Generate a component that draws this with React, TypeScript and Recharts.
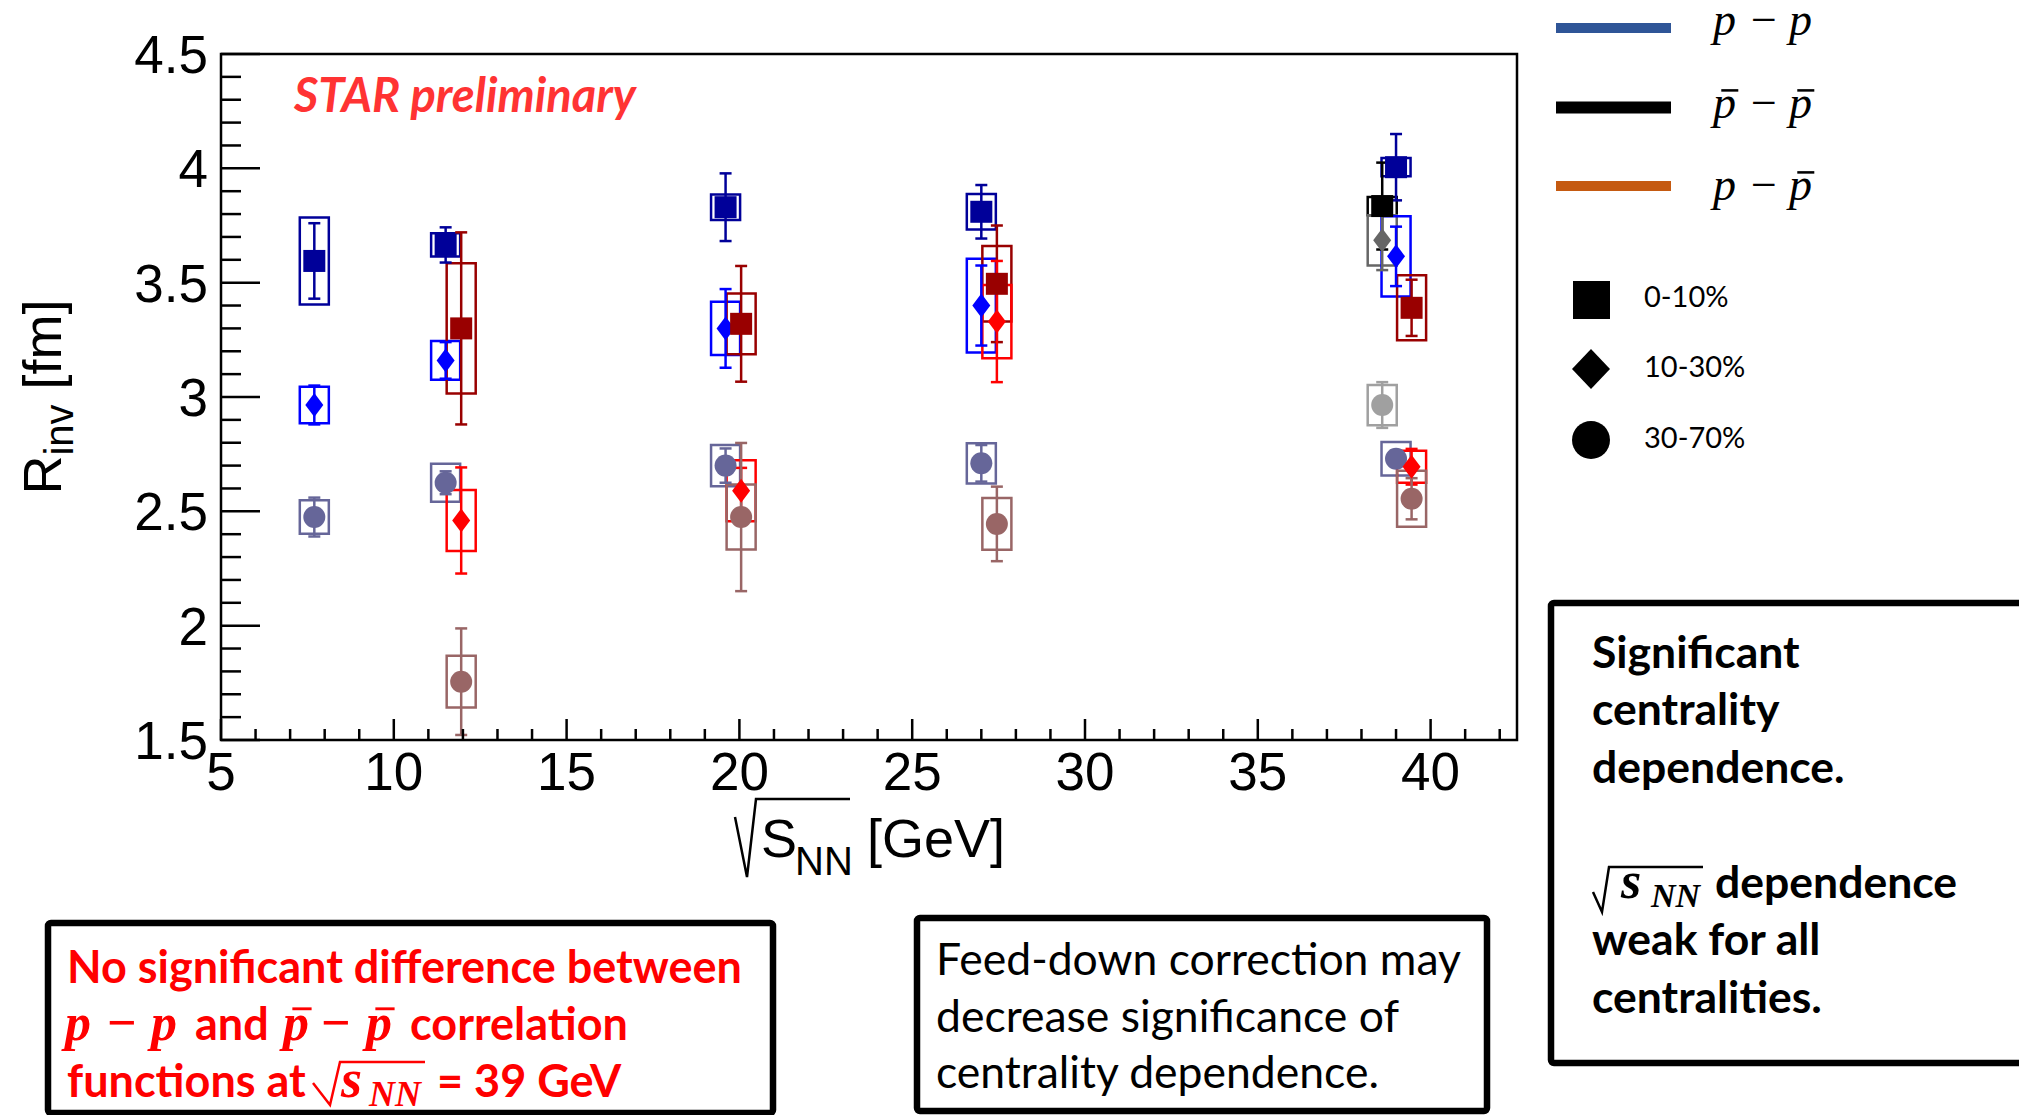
import React from "react"
import { ScatterChart, Scatter, XAxis, YAxis, ErrorBar, ReferenceArea } from "recharts"

// collision energies (GeV) at which each pair type was measured
const ppEnergy = [7.7, 11.5, 19.6, 27, 39]
const ppbarEnergy = [11.5, 19.6, 27, 39]
const pbarpbarEnergy = [39]

// R_inv [fm], statistical error, systematic error — p-p
const ppR0 = [3.595, 3.665, 3.83, 3.81, 4.005]
const ppStat0 = [0.165, 0.077, 0.148, 0.117, 0.145]
const ppSys0 = [0.19, 0.051, 0.056, 0.078, 0.04]
const ppR1 = [2.965, 3.16, 3.3, 3.4, 3.615]
const ppStat1 = [0.085, 0.08, 0.172, 0.175, 0.13]
const ppSys1 = [0.08, 0.085, 0.116, 0.205, 0.175]
const ppR2 = [2.475, 2.625, 2.7, 2.71, 2.73]
const ppStat2 = [0.085, 0.05, 0.075, 0.08, 0.035]
const ppSys2 = [0.073, 0.083, 0.09, 0.088, 0.073]

// anti-p - anti-p
const pbarR0 = [3.835]
const pbarStat0 = [0.19]
const pbarSys0 = [0.04]
const pbarR1 = [3.685]
const pbarStat1 = [0.13]
const pbarSys1 = [0.11]
const pbarR2 = [2.965]
const pbarStat2 = [0.1]
const pbarSys2 = [0.088]

// p - anti-p
const ppbarR0 = [3.3, 3.32, 3.495, 3.39]
const ppbarStat0 = [0.42, 0.253, 0.255, 0.123]
const ppbarSys0 = [0.285, 0.133, 0.165, 0.142]
const ppbarR1 = [2.46, 2.59, 3.33, 2.695]
const ppbarStat1 = [0.232, 0.1, 0.265, 0.078]
const ppbarSys1 = [0.133, 0.133, 0.16, 0.07]
const ppbarR2 = [1.755, 2.475, 2.445, 2.555]
const ppbarStat2 = [0.233, 0.324, 0.163, 0.09]
const ppbarSys2 = [0.113, 0.142, 0.113, 0.122]

const xMajor = [5, 10, 15, 20, 25, 30, 35, 40]
const yMajor = [1.5, 2, 2.5, 3, 3.5, 4, 4.5]
const centralityLabels = ["0-10%", "10-30%", "30-70%"]

// horizontal offsets so the pair types don't sit on top of each other
const PP_SHIFT = 0
const PPBAR_SHIFT = 0.45
const PBAR_SHIFT = -0.4
const BOX_HALF = 0.42

const ROOT_FONT = '"Liberation Sans", Arial, sans-serif'
const SLIDE_FONT = 'Lato, "Open Sans", sans-serif'
const MATH_FONT = '"Liberation Serif", "DejaVu Serif", serif'

const xTicks: number[] = []
for (let v = 5; v <= 42; v++) xTicks.push(v)
const yTicks: number[] = []
for (let i = 0; i <= 30; i++) yTicks.push(Math.round(15 + i) / 10)

type Kind = "square" | "diamond" | "circle"
type Pt = { x: number; y: number; stat: number; sys: number }

function points(energy: number[], shift: number, r: number[], stat: number[], sys: number[]): Pt[] {
  return energy.map((e, i) => ({ x: e + shift, y: r[i], stat: stat[i], sys: sys[i] }))
}

const series: { id: string; color: string; kind: Kind; data: Pt[] }[] = [
  { id: "pbar0", color: "#000000", kind: "square", data: points(pbarpbarEnergy, PBAR_SHIFT, pbarR0, pbarStat0, pbarSys0) },
  { id: "pbar1", color: "#666666", kind: "diamond", data: points(pbarpbarEnergy, PBAR_SHIFT, pbarR1, pbarStat1, pbarSys1) },
  { id: "pbar2", color: "#a0a0a0", kind: "circle", data: points(pbarpbarEnergy, PBAR_SHIFT, pbarR2, pbarStat2, pbarSys2) },
  { id: "pp0", color: "#000099", kind: "square", data: points(ppEnergy, PP_SHIFT, ppR0, ppStat0, ppSys0) },
  { id: "pp1", color: "#0000ff", kind: "diamond", data: points(ppEnergy, PP_SHIFT, ppR1, ppStat1, ppSys1) },
  { id: "pp2", color: "#666699", kind: "circle", data: points(ppEnergy, PP_SHIFT, ppR2, ppStat2, ppSys2) },
  { id: "ppbar0", color: "#990000", kind: "square", data: points(ppbarEnergy, PPBAR_SHIFT, ppbarR0, ppbarStat0, ppbarSys0) },
  { id: "ppbar1", color: "#ff0000", kind: "diamond", data: points(ppbarEnergy, PPBAR_SHIFT, ppbarR1, ppbarStat1, ppbarSys1) },
  { id: "ppbar2", color: "#996666", kind: "circle", data: points(ppbarEnergy, PPBAR_SHIFT, ppbarR2, ppbarStat2, ppbarSys2) },
]

function Marker({ cx, cy, kind, color }: { cx: number; cy: number; kind: Kind; color: string }) {
  if (kind === "square") return <rect x={cx - 11} y={cy - 11} width={22} height={22} fill={color} />
  if (kind === "diamond")
    return <polygon points={`${cx},${cy - 12} ${cx + 9},${cy} ${cx},${cy + 12} ${cx - 9},${cy}`} fill={color} />
  return <circle cx={cx} cy={cy} r={11} fill={color} />
}

// ROOT style ticks: drawn inward from the frame, long ones labelled
function XTick({ x, y, payload }: any) {
  const major = xMajor.includes(payload.value)
  return (
    <g>
      <line x1={x} x2={x} y1={y} y2={y - (major ? 21 : 11)} stroke="#000" strokeWidth={2.5} />
      {major && (
        <text x={x} y={y + 50} textAnchor="middle" fontSize={53} fontFamily={ROOT_FONT} fill="#000">
          {payload.value}
        </text>
      )}
    </g>
  )
}

function YTick({ x, y, payload }: any) {
  const major = yMajor.includes(payload.value)
  return (
    <g>
      <line x1={x} x2={x + (major ? 39 : 20)} y1={y} y2={y} stroke="#000" strokeWidth={2.5} />
      {major && (
        <text x={x - 13} y={y + 19} textAnchor="end" fontSize={53} fontFamily={ROOT_FONT} fill="#000">
          {payload.value}
        </text>
      )}
    </g>
  )
}

function XTitle({ viewBox }: any) {
  const vb = viewBox ?? { x: 221, y: 740, width: 1296, height: 140 }
  const cx = vb.x + vb.width / 2
  const base = vb.y + 117
  return (
    <g fontFamily={ROOT_FONT} fill="#000">
      <path
        d={`M ${cx - 134} ${base - 40} L ${cx - 122} ${base + 20} L ${cx - 113} ${base - 58} L ${cx - 19} ${base - 58}`}
        fill="none"
        stroke="#000"
        strokeWidth={2.5}
      />
      <text x={cx - 108} y={base} fontSize={54}>S</text>
      <text x={cx - 74} y={base + 18} fontSize={40}>NN</text>
      <text x={cx - 2} y={base} fontSize={54}>[GeV]</text>
    </g>
  )
}

function YTitle({ viewBox }: any) {
  const vb = viewBox ?? { x: 0, y: 54, width: 221, height: 686 }
  const cy = vb.y + vb.height / 2
  return (
    <text transform="rotate(-90)" x={-cy} y={vb.x + 61} textAnchor="middle" fontFamily={ROOT_FONT} fontSize={54} fill="#000">
      R
      <tspan dy={12} fontSize={40}>inv</tspan>
      <tspan dy={-12}> [fm]</tspan>
    </text>
  )
}

function Chart() {
  return (
    <ScatterChart width={1540} height={920} margin={{ top: 54, right: 23, bottom: 40, left: 0 }}>
      <XAxis
        type="number"
        dataKey="x"
        domain={[5, 42.5]}
        allowDataOverflow
        ticks={xTicks}
        interval={0}
        height={140}
        axisLine={false}
        tickLine={false}
        tickSize={0}
        tickMargin={0}
        tick={(p: any) => <XTick {...p} />}
        label={<XTitle />}
      />
      <YAxis
        type="number"
        dataKey="y"
        domain={[1.5, 4.5]}
        allowDataOverflow
        ticks={yTicks}
        interval={0}
        width={221}
        axisLine={false}
        tickLine={false}
        tickSize={0}
        tickMargin={0}
        tick={(p: any) => <YTick {...p} />}
        label={<YTitle />}
      />
      <ReferenceArea x1={5} x2={42.5} y1={1.5} y2={4.5} fill="none" stroke="#000" strokeWidth={2.5} />
      {series.map((s) =>
        s.data.map((d, i) => (
          <ReferenceArea
            key={`${s.id}-box-${i}`}
            x1={d.x - BOX_HALF}
            x2={d.x + BOX_HALF}
            y1={d.y - d.sys}
            y2={d.y + d.sys}
            fill="none"
            stroke={s.color}
            strokeWidth={2.5}
          />
        ))
      )}
      {series.map((s) => (
        <Scatter
          key={s.id}
          data={s.data}
          isAnimationActive={false}
          shape={(p: any) => <Marker cx={p.cx} cy={p.cy} kind={s.kind} color={s.color} />}
        >
          <ErrorBar dataKey="stat" direction="y" width={6} strokeWidth={2.5} stroke={s.color} />
        </Scatter>
      ))}
    </ScatterChart>
  )
}

function PBar({ x, y, size, weight, color }: { x: number; y: number; size: number; weight?: number; color: string }) {
  // italic p with a bar above it
  const barY = y - size * 0.6
  return (
    <g>
      <text x={x} y={y} fontFamily={MATH_FONT} fontStyle="italic" fontWeight={weight ?? 400} fontSize={size} fill={color}>
        p
      </text>
      <line x1={x + size * 0.18} x2={x + size * 0.55} y1={barY} y2={barY} stroke={color} strokeWidth={size * 0.055} />
    </g>
  )
}

function Overlay() {
  const red = "#ff0000"
  const legendRows = [
    { y: 28, h: 10, color: "#2f5597" },
    { y: 107.5, h: 12, color: "#000000" },
    { y: 186, h: 10, color: "#c55a11" },
  ]
  return (
    <svg width={2019} height={1115} style={{ position: "absolute", left: 0, top: 0 }}>
      <text x={294} y={112} fontFamily={SLIDE_FONT} fontWeight={700} fontStyle="italic" fontSize={47} fill="#ff3333">
        STAR preliminary
      </text>

      {/* pair type legend */}
      {legendRows.map((r) => (
        <rect key={r.y} x={1556} y={r.y - r.h / 2} width={115} height={r.h} fill={r.color} />
      ))}
      <g fontFamily={MATH_FONT} fontSize={46} fill="#000">
        <text x={1713} y={35} fontStyle="italic">p</text>
        <text x={1751} y={35}>−</text>
        <text x={1789} y={35} fontStyle="italic">p</text>
        <text x={1751} y={118}>−</text>
        <text x={1713} y={200} fontStyle="italic">p</text>
        <text x={1751} y={200}>−</text>
      </g>
      <PBar x={1713} y={118} size={46} color="#000" />
      <PBar x={1789} y={118} size={46} color="#000" />
      <PBar x={1789} y={200} size={46} color="#000" />

      {/* centrality legend */}
      <rect x={1573} y={281} width={37} height={38} fill="#000" />
      <polygon points="1591,349 1610,369 1591,389 1572,369" fill="#000" />
      <circle cx={1591} cy={440} r={19} fill="#000" />
      <g fontFamily={SLIDE_FONT} fontSize={29} fill="#000">
        <text x={1644} y={307}>{centralityLabels[0]}</text>
        <text x={1644} y={377}>{centralityLabels[1]}</text>
        <text x={1644} y={448}>{centralityLabels[2]}</text>
      </g>

      {/* right note */}
      <rect x={1551} y={603} width={490} height={460} rx={3} fill="none" stroke="#000" strokeWidth={6.5} />
      <g fontFamily={SLIDE_FONT} fontWeight={700} fontSize={44.5} fill="#000">
        <text x={1592} y={668}>Significant</text>
        <text x={1592} y={725}>centrality</text>
        <text x={1592} y={783}>dependence.</text>
        <text x={1715} y={898}>dependence</text>
        <text x={1592} y={955}>weak for all</text>
        <text x={1592} y={1013}>centralities.</text>
      </g>
      <path d="M 1593 892 L 1602 912 L 1609 867 L 1703 867" fill="none" stroke="#000" strokeWidth={2.5} />
      <text x={1621} y={898} fontFamily={MATH_FONT} fontWeight={700} fontStyle="italic" fontSize={52} fill="#000">s</text>
      <text x={1651} y={907} fontFamily={MATH_FONT} fontWeight={700} fontStyle="italic" fontSize={34} fill="#000">NN</text>

      {/* bottom left note */}
      <rect x={48} y={923} width={725} height={190} rx={3} fill="none" stroke="#000" strokeWidth={6.5} />
      <g fontFamily={SLIDE_FONT} fontWeight={700} fontSize={45} fill={red}>
        <text x={67} y={983}>No significant difference between</text>
        <text x={195} y={1040}>and</text>
        <text x={410} y={1040}>correlation</text>
        <text x={67} y={1097}>functions at</text>
        <text x={437} y={1097}>= 39 GeV</text>
      </g>
      <g fontFamily={MATH_FONT} fontWeight={700} fontSize={52} fill={red}>
        <text x={65} y={1040} fontStyle="italic">p</text>
        <text x={107} y={1040}>−</text>
        <text x={151} y={1040} fontStyle="italic">p</text>
        <text x={321} y={1040}>−</text>
        <text x={341} y={1097} fontStyle="italic" fontSize={54}>s</text>
        <text x={369} y={1106} fontStyle="italic" fontSize={36}>NN</text>
      </g>
      <PBar x={283} y={1040} size={52} weight={700} color={red} />
      <PBar x={366} y={1040} size={52} weight={700} color={red} />
      <path d="M 313 1083 L 330 1105 L 340 1062 L 425 1062" fill="none" stroke={red} strokeWidth={2.5} />

      {/* bottom middle note */}
      <rect x={917} y={918} width={570} height={193} rx={3} fill="none" stroke="#000" strokeWidth={6.5} />
      <g fontFamily={SLIDE_FONT} fontSize={44.5} fill="#000">
        <text x={936} y={975}>Feed-down correction may</text>
        <text x={936} y={1032}>decrease significance of</text>
        <text x={936} y={1088}>centrality dependence.</text>
      </g>
    </svg>
  )
}

export default function App() {
  return (
    <div style={{ position: "absolute", left: 0, top: 0, width: 2019, height: 1115, overflow: "hidden", background: "#fff" }}>
      <div style={{ position: "absolute", left: 0, top: 0 }}>
        <Chart />
      </div>
      <Overlay />
    </div>
  )
}
